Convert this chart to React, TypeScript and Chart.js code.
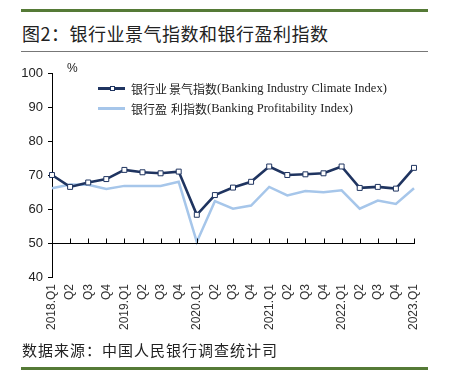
import React, { useEffect, useRef } from "react";
import { Chart, registerables } from "chart.js";

Chart.register(...registerables);

const categories = [
  "2018.Q1", "Q2", "Q3", "Q4",
  "2019.Q1", "Q2", "Q3", "Q4",
  "2020.Q1", "Q2", "Q3", "Q4",
  "2021.Q1", "Q2", "Q3", "Q4",
  "2022.Q1", "Q2", "Q3", "Q4",
  "2023.Q1",
];

const climateIndex = [
  70.0, 66.5, 67.8, 68.8,
  71.5, 70.8, 70.5, 71.0,
  58.3, 64.1, 66.3, 68.0,
  72.5, 70.0, 70.2, 70.5,
  72.5, 66.2, 66.5, 66.0,
  72.1,
];

const profitIndex = [
  66.1, 67.2, 67.1, 65.9,
  66.8, 66.8, 66.8, 68.0,
  50.3, 62.3, 60.1, 61.0,
  66.5, 64.0, 65.3, 64.9,
  65.5, 60.1, 62.5, 61.5,
  66.1,
];

const yTicks = [40, 50, 60, 70, 80, 90, 100];

const seriesNames = {
  climate: { cn1: "银行业", cn2: "景气指数", en: "(Banking Industry Climate Index)" },
  profit: { cn1: "银行盈", cn2: "利指数", en: "(Banking Profitability Index)" },
};

const DARK = "#1f3460";
const LIGHT = "#a6c6ea";
const GREEN = "#557a36";

const axisLinePlugin = {
  id: "axisLine50",
  afterDatasetsDraw(chart: any) {
    const { ctx, scales } = chart;
    const x = scales.x;
    const y = scales.y;
    const y50 = Math.round(y.getPixelForValue(50)) + 0.5;
    ctx.save();
    ctx.strokeStyle = "#000";
    ctx.lineWidth = 1;
    ctx.beginPath();
    ctx.moveTo(x.getPixelForValue(0), y50);
    ctx.lineTo(x.getPixelForValue(categories.length - 1) + 1, y50);
    for (let i = 1; i < categories.length; i++) {
      const px = Math.round(x.getPixelForValue(i)) + 0.5;
      ctx.moveTo(px, y50);
      ctx.lineTo(px, y50 - 5);
    }
    ctx.stroke();
    ctx.restore();
  },
};

function LegendRow({ top, color, marker, cn1, cn2, en, gap }: any) {
  const cnStyle = { fontFamily: "'Noto Sans CJK SC'", fontSize: 12, color: "#222" };
  return (
    <div style={{ position: "absolute", left: 98, top: top - 9, height: 18, display: "flex", alignItems: "center", whiteSpace: "nowrap" }}>
      <div style={{ position: "relative", width: 27, height: 18 }}>
        <div style={{ position: "absolute", left: 0, top: 8, width: 27, height: 3, background: color }} />
        {marker && (
          <div style={{ position: "absolute", left: 12, top: 7, width: 3, height: 3, background: "#fff", border: `1px solid ${color}` }} />
        )}
      </div>
      <span style={{ ...cnStyle, marginLeft: 6 }}>{cn1}</span>
      <span style={{ ...cnStyle, marginLeft: gap }}>{cn2}</span>
      <span style={{ fontFamily: "'Liberation Serif'", fontSize: 12.5, color: "#222" }}>{en}</span>
    </div>
  );
}

export default function App() {
  const canvasRef = useRef<HTMLCanvasElement | null>(null);

  useEffect(() => {
    if (!canvasRef.current) return;
    const chart = new Chart(canvasRef.current, {
      type: "line",
      data: {
        labels: categories,
        datasets: [
          {
            label: seriesNames.climate.cn1 + seriesNames.climate.cn2 + seriesNames.climate.en,
            data: climateIndex,
            borderColor: DARK,
            backgroundColor: "#fff",
            borderWidth: 2.6,
            pointStyle: "rect",
            pointRadius: 3.5,
            pointBorderWidth: 1,
            pointBorderColor: DARK,
            pointBackgroundColor: "#fff",
            tension: 0,
          },
          {
            label: seriesNames.profit.cn1 + seriesNames.profit.cn2 + seriesNames.profit.en,
            data: profitIndex,
            borderColor: LIGHT,
            backgroundColor: LIGHT,
            borderWidth: 2.5,
            pointRadius: 0,
            tension: 0,
          },
        ],
      },
      options: {
        responsive: false,
        animation: false,
        layout: { padding: { left: 22, top: 73, right: 35, bottom: 35 } },
        plugins: {
          legend: { display: false },
          tooltip: { enabled: false },
        },
        scales: {
          x: {
            type: "category",
            offset: false,
            grid: { display: false, drawTicks: false },
            border: { display: false },
            ticks: {
              autoSkip: false,
              minRotation: 90,
              maxRotation: 90,
              padding: 7,
              color: "#333",
              font: { family: "'Liberation Sans'", size: 12 },
            },
            afterFit: (s: any) => { s.height = 60; },
          },
          y: {
            min: 40,
            max: 100,
            afterBuildTicks: (s: any) => { s.ticks = yTicks.map((v) => ({ value: v })); },
            grid: {
              display: true,
              drawOnChartArea: false,
              drawTicks: true,
              tickLength: 4,
              tickColor: "#000",
              color: "#000",
            },
            border: { display: true, color: "#000", width: 1 },
            ticks: {
              padding: 5,
              color: "#222",
              font: { family: "'Liberation Sans'", size: 13 },
            },
            afterFit: (s: any) => { s.width = 30; },
          },
        },
      },
      plugins: [axisLinePlugin],
    });
    return () => chart.destroy();
  }, []);

  return (
    <div style={{ position: "absolute", left: 0, top: 0, width: 449, height: 372, background: "#fff", overflow: "hidden" }}>
      <div style={{ position: "absolute", left: 21, top: 9, width: 407, height: 3, background: GREEN }} />
      <div style={{ position: "absolute", left: 22, top: 21, fontFamily: "'Noto Sans CJK SC'", fontSize: 18, lineHeight: "24px", letterSpacing: 0.5, color: "#222", whiteSpace: "nowrap" }}>
        图2：银行业景气指数和银行盈利指数
      </div>
      <div style={{ position: "absolute", left: 21, top: 51, width: 407, height: 1, background: "#777" }} />
      <canvas ref={canvasRef} width={449} height={372} style={{ position: "absolute", left: 0, top: 0 }} />
      <div style={{ position: "absolute", left: 67, top: 61, fontFamily: "'Liberation Sans'", fontSize: 12, color: "#222" }}>%</div>
      <LegendRow top={88} color={DARK} marker gap={2} {...seriesNames.climate} />
      <LegendRow top={108} color={LIGHT} marker={false} gap={4} {...seriesNames.profit} />
      <div style={{ position: "absolute", left: 22, top: 340, fontFamily: "'Noto Sans CJK SC'", fontSize: 15, lineHeight: "20px", letterSpacing: 1, color: "#222", whiteSpace: "nowrap" }}>
        数据来源：中国人民银行调查统计司
      </div>
      <div style={{ position: "absolute", left: 21, top: 367, width: 407, height: 3, background: GREEN }} />
    </div>
  );
}
